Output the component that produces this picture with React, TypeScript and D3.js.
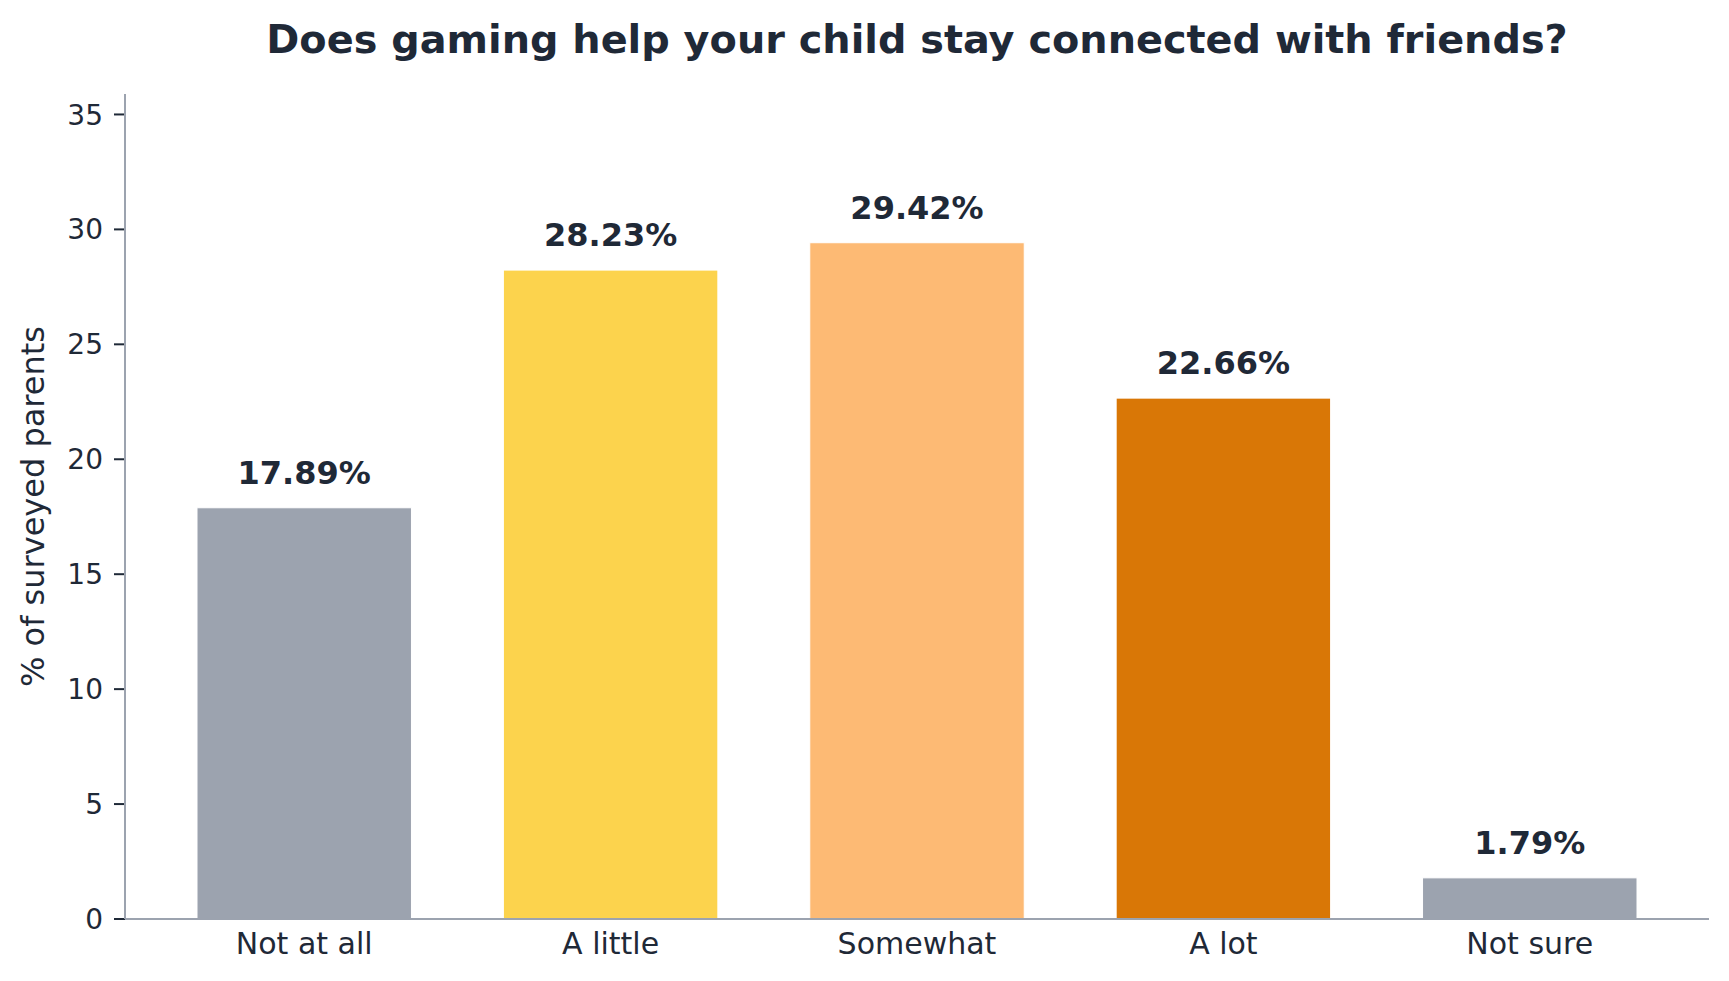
import React from "react";
import * as d3 from "d3";

const categories = ["Not at all", "A little", "Somewhat", "A lot", "Not sure"];
const values = [17.89, 28.23, 29.42, 22.66, 1.79];
const barColors = ["#9CA3AF", "#FCD34D", "#FDBA74", "#D97706", "#9CA3AF"];
const yTicks = [0, 5, 10, 15, 20, 25, 30, 35];
const title = "Does gaming help your child stay connected with friends?";
const yLabel = "% of surveyed parents";

const W = 1729;
const H = 981;
const left = 125;
const right = 1709;
const top = 94;
const bottom = 919;
const TEXT = "#1F2937";
const SPINE = "#9CA3AF";
const FONT = "'DejaVu Sans', sans-serif";

export default function App() {
  const x = d3
    .scaleBand<string>()
    .domain(categories)
    .range([left, right])
    .paddingInner(0.3)
    .paddingOuter(0.235);
  const y = d3.scaleLinear().domain([0, 35.89]).range([bottom, top]);

  return (
    <div style={{ position: "absolute", left: 0, top: 0, width: W, height: H, background: "#fff" }}>
      <svg width={W} height={H} style={{ display: "block", fontFamily: FONT }}>
        <rect x={0} y={0} width={W} height={H} fill="#fff" />
        <text
          x={(left + right) / 2}
          y={53}
          textAnchor="middle"
          fontSize={39.8}
          fontWeight="bold"
          fill={TEXT}
        >
          {title}
        </text>

        {categories.map((c, i) => (
          <g key={c}>
            <rect
              x={x(c)!}
              y={y(values[i])}
              width={x.bandwidth()}
              height={y(0) - y(values[i])}
              fill={barColors[i]}
              stroke="#fff"
              strokeWidth={1}
            />
            <text
              x={x(c)! + x.bandwidth() / 2}
              y={y(values[i]) - 24}
              textAnchor="middle"
              fontSize={32}
              fontWeight="bold"
              fill={TEXT}
            >
              {values[i].toFixed(2) + "%"}
            </text>
            <text
              x={x(c)! + x.bandwidth() / 2}
              y={bottom + 35}
              textAnchor="middle"
              fontSize={30}
              fill={TEXT}
            >
              {c}
            </text>
          </g>
        ))}

        {yTicks.map((t) => (
          <g key={t}>
            <line x1={left - 11} x2={left} y1={y(t)} y2={y(t)} stroke={TEXT} strokeWidth={2} />
            <text
              x={left - 22}
              y={y(t)}
              dy="0.36em"
              textAnchor="end"
              fontSize={28}
              fill={TEXT}
            >
              {t}
            </text>
          </g>
        ))}

        <line x1={left} x2={left} y1={top} y2={bottom} stroke={SPINE} strokeWidth={2} />
        <line x1={left} x2={right} y1={bottom} y2={bottom} stroke={SPINE} strokeWidth={2} />

        <text
          transform={`translate(44, ${(top + bottom) / 2}) rotate(-90)`}
          textAnchor="middle"
          fontSize={32}
          fill={TEXT}
        >
          {yLabel}
        </text>
      </svg>
    </div>
  );
}
